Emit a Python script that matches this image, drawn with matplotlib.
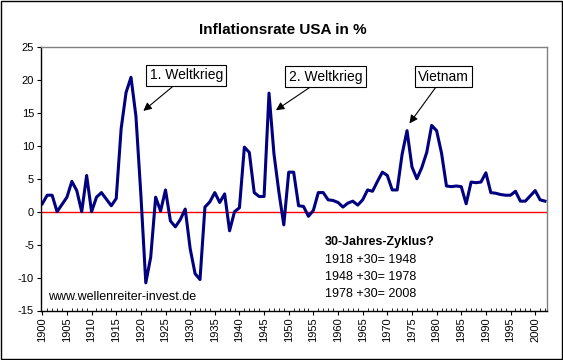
import matplotlib.pyplot as plt
import matplotlib.patches as patches
import numpy as np

# Inflation rate USA (Dec-Dec, %), 1900 - 2002
years = list(range(1900, 2003))
inflation = [
    1.2, 2.5, 2.5, 0.0, 1.1, 2.2, 4.6, 3.2, 0.0, 5.5,   # 1900-1909
    0.0, 2.2, 2.9, 1.9, 0.9, 2.0, 12.6, 18.1, 20.4, 14.5,  # 1910-1919
    2.6, -10.8, -6.9, 2.2, 0.1, 3.3, -1.4, -2.3, -1.2, 0.4,  # 1920-1929
    -5.6, -9.4, -10.3, 0.7, 1.5, 2.9, 1.4, 2.7, -2.9, 0.0,  # 1930-1939
    0.6, 9.8, 9.0, 2.9, 2.3, 2.3, 18.0, 8.8, 3.0, -2.0,  # 1940-1949
    6.0, 6.0, 0.9, 0.8, -0.7, 0.2, 2.9, 2.9, 1.8, 1.7,  # 1950-1959
    1.4, 0.7, 1.3, 1.6, 1.0, 1.8, 3.3, 3.1, 4.6, 6.0,  # 1960-1969
    5.5, 3.3, 3.3, 8.7, 12.3, 6.8, 5.0, 6.7, 9.0, 13.1,  # 1970-1979
    12.3, 8.9, 3.9, 3.8, 3.9, 3.8, 1.2, 4.5, 4.4, 4.5,  # 1980-1989
    5.9, 2.9, 2.8, 2.6, 2.5, 2.5, 3.1, 1.6, 1.6, 2.4,  # 1990-1999
    3.2, 1.8, 1.6,  # 2000-2002
]
label_years = list(range(1900, 2001, 5))
y_ticks = list(range(-15, 26, 5))
cycle_lines = ["1918 +30= 1948", "1948 +30= 1978", "1978 +30= 2008"]

plt.rcParams['font.family'] = ['Liberation Sans', 'DejaVu Sans']

fig = plt.figure(figsize=(5.63, 3.6), dpi=100)
ax = fig.add_axes([41 / 563, 1 - 310.5 / 360, (547 - 41) / 563, (310.5 - 47) / 360])

# outer frame around the chart
fig.patches.append(patches.Rectangle((0.5 / 563, 1 - 358.5 / 360), 561 / 563, 357.5 / 360,
                                     transform=fig.transFigure, fill=False,
                                     edgecolor='black', linewidth=1))

ax.axhline(0, color='#ff0000', linewidth=1, zorder=1)
ax.plot(years, inflation, color='#000080', linewidth=2.2, zorder=2)

ax.set_xlim(1899.74, 2002.4)
ax.set_ylim(-15, 25)
ax.set_yticks(y_ticks)
ax.set_yticklabels([str(t) for t in y_ticks], fontsize=8)
ax.set_xticks(label_years)
ax.set_xticklabels([str(y) for y in label_years], rotation=90, fontsize=8)
ax.set_xticks(years, minor=True)
ax.tick_params(axis='x', which='major', direction='out', length=3, width=0.8, pad=2)
ax.tick_params(axis='x', which='minor', direction='in', length=2, width=0.6)
ax.tick_params(axis='y', direction='out', length=3, width=0.8, pad=2)

ax.spines['left'].set_color('black')
ax.spines['bottom'].set_color('black')
ax.spines['top'].set_color('#808080')
ax.spines['right'].set_color('#808080')
for s in ax.spines.values():
    s.set_linewidth(1)

fig.text(283 / 563, 1 - 30 / 360, 'Inflationsrate USA in %', ha='center', va='center',
         fontsize=11, fontweight='bold')

box = dict(boxstyle='square,pad=0.25', facecolor='white', edgecolor='black', linewidth=0.8)
arrow = dict(arrowstyle='-|>', color='black', linewidth=0.8, mutation_scale=12, shrinkA=0, shrinkB=0)
ax.annotate('1. Weltkrieg', xy=(1920.5, 15.3), xytext=(1929.2, 20.7), ha='center', va='center',
            fontsize=10, bbox=box, arrowprops=arrow)
ax.annotate('2. Weltkrieg', xy=(1947.4, 15.4), xytext=(1957.5, 20.5), ha='center', va='center',
            fontsize=10, bbox=box, arrowprops=arrow)
ax.annotate('Vietnam', xy=(1974.5, 13.4), xytext=(1981.4, 20.5), ha='center', va='center',
            fontsize=10, bbox=box, arrowprops=arrow)

ax.text(48 / 563, 1 - 297 / 360, 'www.wellenreiter-invest.de', transform=fig.transFigure,
        ha='left', va='center', fontsize=9)
fig.text(325 / 563, 1 - 242 / 360, '30-Jahres-Zyklus?', ha='left', va='center',
         fontsize=9, fontweight='bold')
for i, line in enumerate(cycle_lines):
    fig.text(325 / 563, 1 - (260 + 17 * i) / 360, line, ha='left', va='center', fontsize=9)

fig.savefig('out.png', dpi=100)
